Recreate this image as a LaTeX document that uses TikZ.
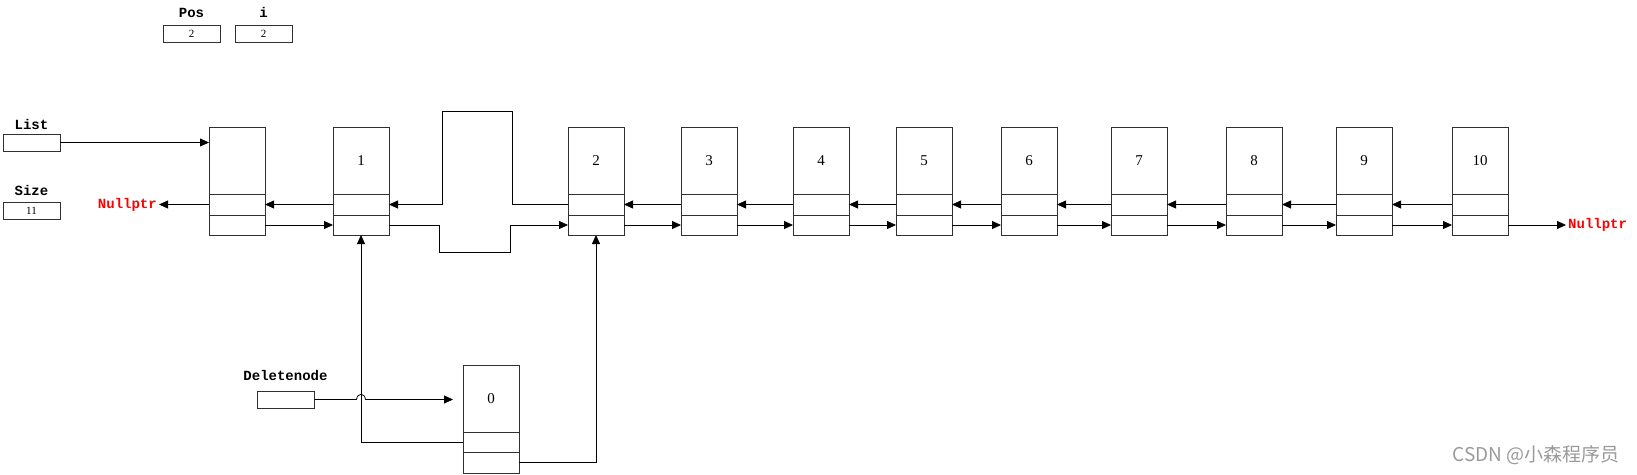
\documentclass[tikz,border=0pt]{standalone}
\usepackage{fontspec}
\setmainfont{Liberation Serif}
\setmonofont{Liberation Mono}
\newfontfamily\cjk{Noto Sans CJK SC}
\usetikzlibrary{arrows.meta,positioning}
\definecolor{llred}{HTML}{FF0000}
\definecolor{llgrey}{HTML}{9A9A9A}
\definecolor{lldark}{HTML}{303030}
\tikzset{
  data/.style={draw=lldark,line width=0.9pt,minimum width=56pt,minimum height=67pt,
               inner sep=0pt,outer sep=0pt,font=\fontsize{15}{15}\selectfont},
  slot/.style={draw=lldark,line width=0.9pt,minimum width=56pt,inner sep=0pt,outer sep=0pt},
  ptr/.style={draw=lldark,line width=0.9pt,minimum width=57pt,minimum height=17pt,
              inner sep=0pt,font=\fontsize{11}{11}\selectfont},
  tag/.style={font=\ttfamily\bfseries\fontsize{14}{14}\selectfont,inner sep=2pt},
  nul/.style={tag,text=llred},
  ar/.style={-{Triangle[length=9pt,width=8pt]},line width=0.8pt},
}
\begin{document}
\begin{tikzpicture}[x=1pt,y=-1pt]
\useasboundingbox (0,0) rectangle (1637,474);

% list nodes
\foreach \nm/\x/\lab in {h/209/,n1/333/1,n2/568/2,n3/681/3,n4/793/4,n5/896/5,
                         n6/1001/6,n7/1111/7,n8/1226/8,n9/1336/9,n10/1452/10}{
  \node[data,anchor=north west] (\nm) at (\x,127) {\lab};
  \node[slot,minimum height=21pt,below=0pt of \nm] (\nm-p) {};
  \node[slot,minimum height=20pt,below=0pt of \nm-p] (\nm-n) {};
}

% node to delete
\node[data,anchor=north west] (del) at (463,365) {0};
\node[slot,minimum height=20pt,below=0pt of del] (del-p) {};
\node[slot,minimum height=21pt,below=0pt of del-p] (del-n) {};

% pointer boxes
\node[ptr] (pos) at (191.5,33.5) {2};
\node[tag,above=5pt of pos] (pos-t) {Pos};
\node[ptr] (idx) at (263.5,33.5) {2};
\node[tag,above=5pt of idx] (idx-t) {i};
\node[ptr] (list) at (31.5,142.5) {};
\node[tag,above=2pt of list] (list-t) {List};
\node[ptr] (size) at (31.5,211) {11};
\node[tag,above=4pt of size] (size-t) {Size};
\node[ptr] (dptr) at (285.5,399.5) {};
\node[tag,above=8pt of dptr] (dptr-t) {Deletenode};

\node[nul,left=50pt of h-p] (null-l) {Nullptr};
\node[nul,right=58pt of n10-n] (null-r) {Nullptr};

% next / prev links
\foreach \a/\b in {h/n1,n2/n3,n3/n4,n4/n5,n5/n6,n6/n7,n7/n8,n8/n9,n9/n10}
  \draw[ar] (\a-n.east) -- (\b-n.west);
\foreach \a/\b in {n1/h,n3/n2,n4/n3,n5/n4,n6/n5,n7/n6,n8/n7,n9/n8,n10/n9}
  \draw[ar] (\a-p.west) -- (\b-p.east);
\draw[ar] (h-p.west) -- (null-l.east);
\draw[ar] (n10-n.east) -- (null-r.west);

% links around the gap
\coordinate (up-r) at (512,111);
\coordinate (up-l) at (442,111);
\draw[ar] (n2-p.west) -| (up-r) -- (up-l) |- (n1-p.east);
\coordinate (dn-l) at (439,252);
\coordinate (dn-r) at (510,252);
\draw[ar] (n1-n.east) -| (dn-l) -- (dn-r) |- (n2-n.west);

% pointers
\draw[ar] (list.east) -- (list.east -| h.west);
\coordinate (hop) at (dptr.east -| n1-n.south);
\coordinate (del-tip) at ([xshift=-10pt]del.west);
\draw[ar] (dptr.east) -- ([xshift=-4.5pt]hop) .. controls +(1,-7) and +(-1,-7) .. ([xshift=4.5pt]hop)
  -- (dptr.east -| del-tip);
\draw[ar] (del-p.west) -| (n1-n.south);
\draw[ar] (del-n.east) -| (n2-n.south);

\node[text=llgrey,font=\cjk\fontsize{19}{19}\selectfont] (mark) at (1536,455) {CSDN @小森程序员};
\end{tikzpicture}
\end{document}
